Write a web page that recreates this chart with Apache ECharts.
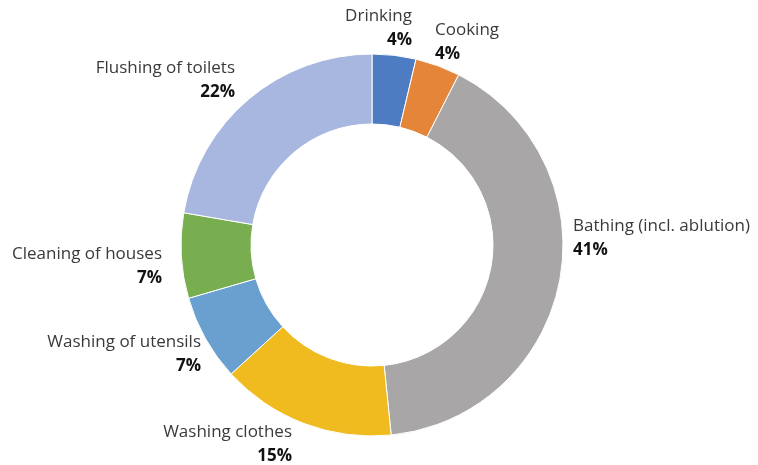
<!DOCTYPE html>
<html>
<head>
<meta charset="utf-8">
<script src="https://cdn.jsdelivr.net/npm/echarts@6/dist/echarts.min.js"></script>
<style>html,body{margin:0;padding:0;background:#fff}#c{width:758px;height:465px}</style>
</head>
<body>
<div id="c"></div>
<script>
var categories = ["Drinking", "Cooking", "Bathing (incl. ablution)", "Washing clothes", "Washing of utensils", "Cleaning of houses", "Flushing of toilets"];
var values = [3.7, 3.8, 40.9, 14.8, 7.3, 7.2, 22.3];
var colors = ["#4E7CC2", "#E4853A", "#A8A6A7", "#F0BB1E", "#69A0D0", "#78AD50", "#A8B7E0"];
// label anchors: [x, y, align]
var labelPos = [
  [412, 28, "right"],
  [435, 42, "left"],
  [573, 238, "left"],
  [292, 444, "right"],
  [201, 354, "right"],
  [162, 266, "right"],
  [235, 80, "right"]
];

var chart = echarts.init(document.getElementById('c'), null, {renderer: 'canvas'});
var data = categories.map(function (n, i) {
  return {name: n, value: values[i], itemStyle: {color: colors[i]}};
});
chart.setOption({
  animation: false,
  series: [{
    type: 'pie',
    center: [372, 245],
    radius: [121, 191],
    startAngle: 90,
    clockwise: true,
    avoidLabelOverlap: false,
    itemStyle: {borderColor: '#fff', borderWidth: 1},
    label: {
      show: true,
      position: 'outside',
      formatter: function (p) { return '{n|' + p.name + '}\n{p|' + Math.round(p.percent) + '%}'; },
      rich: {
        n: {fontFamily: 'Open Sans', fontSize: 17, color: '#3a3a3a', lineHeight: 24},
        p: {fontFamily: 'Open Sans', fontSize: 17, fontWeight: 'bold', color: '#111111', lineHeight: 24}
      }
    },
    labelLine: {show: false},
    labelLayout: function (params) {
      var lp = labelPos[params.dataIndex];
      return {x: lp[0], y: lp[1], align: lp[2], verticalAlign: 'middle'};
    },
    data: data
  }]
});
</script>
</body>
</html>
